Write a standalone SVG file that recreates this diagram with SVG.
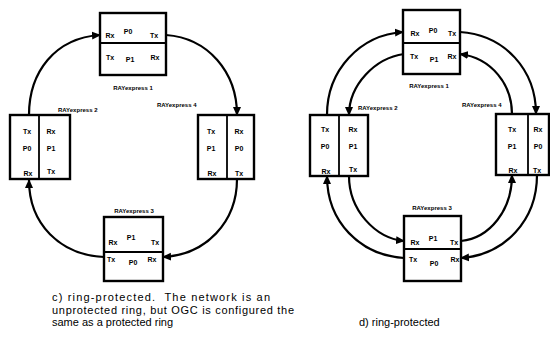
<svg xmlns="http://www.w3.org/2000/svg" width="550" height="349" viewBox="0 0 550 349">
<style>
.box{fill:#fff;stroke:#000;stroke-width:2.4}
.div{stroke:#000;stroke-width:1.8}
.p{font-family:"Liberation Sans",Arial,sans-serif;font-size:7px;font-weight:bold;text-anchor:middle;fill:#000}
.n{font-family:"Liberation Sans",Arial,sans-serif;font-size:6px;font-weight:bold;fill:#000}
.cap{font-family:"Liberation Sans",Arial,sans-serif;font-size:11px;fill:#000}
.c{fill:none;stroke:#000;stroke-width:2.2;marker-end:url(#ah)}
</style>
<defs>
<marker id="ah" markerUnits="userSpaceOnUse" markerWidth="9" markerHeight="9" refX="8" refY="4.5" orient="auto">
<path d="M0,0.5 L9,4.5 L0,8.5 z" fill="#000"/>
</marker>
</defs>
<g id="connectors">
<path class="c" d="M29,115 C29,72 55,38 100,35"/>
<path class="c" d="M166,35 C208,38 237,72 237,115"/>
<path class="c" d="M237,179 C237,222 206,255 163,257"/>
<path class="c" d="M104,257 C60,255 29,224 29,180"/>
<path class="c" d="M327,115 C327,70 360,35 403,32"/>
<path class="c" d="M460,32 C505,35 536,70 536,114"/>
<path class="c" d="M537,175 C537,220 505,255 461,258"/>
<path class="c" d="M404,258 C360,255 327,222 327,176"/>
<path class="c" d="M404,54 C375,58 349,85 349,115"/>
<path class="c" d="M349,176 C349,210 375,238 404,241"/>
<path class="c" d="M461,241 C490,238 512,210 512,175"/>
<path class="c" d="M512,114 C512,85 492,58 460,54"/>
</g>
<g id="c-ray1">
<rect class="box" x="100" y="13" width="66" height="62"/>
<line class="div" x1="100" y1="43" x2="166" y2="43"/>
<text class="p" x="110" y="38">Rx</text><text class="p" x="128" y="34">P0</text><text class="p" x="154" y="38">Tx</text>
<text class="p" x="110" y="60">Tx</text><text class="p" x="130" y="62">P1</text><text class="p" x="155" y="60">Rx</text>
<text class="n" x="133" y="90" text-anchor="middle">RAYexpress 1</text>
</g>
<g id="c-ray2">
<rect class="box" x="10" y="115" width="60" height="64"/>
<line class="div" x1="39" y1="115" x2="39" y2="179"/>
<text class="p" x="27" y="134">Tx</text><text class="p" x="51" y="134">Rx</text>
<text class="p" x="27" y="151">P0</text><text class="p" x="51" y="151">P1</text>
<text class="p" x="28" y="176">Rx</text><text class="p" x="51" y="174">Tx</text>
<text class="n" x="58" y="112">RAYexpress 2</text>
</g>
<g id="c-ray4">
<rect class="box" x="198" y="115" width="56" height="64"/>
<line class="div" x1="227" y1="115" x2="227" y2="179"/>
<text class="p" x="211" y="134">Tx</text><text class="p" x="239" y="134">Rx</text>
<text class="p" x="211" y="151">P1</text><text class="p" x="239" y="151">P0</text>
<text class="p" x="212" y="176">Rx</text><text class="p" x="239" y="176">Tx</text>
<text class="n" x="157" y="107">RAYexpress 4</text>
</g>
<g id="c-ray3">
<rect class="box" x="104" y="217" width="59" height="64"/>
<line class="div" x1="104" y1="252" x2="163" y2="252"/>
<text class="p" x="113" y="245">Rx</text><text class="p" x="131" y="240">P1</text><text class="p" x="155" y="245">Tx</text>
<text class="p" x="111" y="262">Tx</text><text class="p" x="133" y="265">P0</text><text class="p" x="152" y="262">Rx</text>
<text class="n" x="134" y="213" text-anchor="middle">RAYexpress 3</text>
</g>
<g id="d-ray1">
<rect class="box" x="403" y="10" width="57" height="64"/>
<line class="div" x1="403" y1="43" x2="460" y2="43"/>
<text class="p" x="415" y="36">Rx</text><text class="p" x="433" y="33">P0</text><text class="p" x="452" y="36">Tx</text>
<text class="p" x="414" y="59">Tx</text><text class="p" x="434" y="62">P1</text><text class="p" x="452" y="59">Rx</text>
<text class="n" x="429" y="88" text-anchor="middle">RAYexpress 1</text>
</g>
<g id="d-ray2">
<rect class="box" x="310" y="115" width="58" height="61"/>
<line class="div" x1="339" y1="115" x2="339" y2="176"/>
<text class="p" x="325" y="132">Tx</text><text class="p" x="353" y="132">Rx</text>
<text class="p" x="325" y="149">P0</text><text class="p" x="353" y="149">P1</text>
<text class="p" x="326" y="174">Rx</text><text class="p" x="353" y="172">Tx</text>
<text class="n" x="358" y="110">RAYexpress 2</text>
</g>
<g id="d-ray4">
<rect class="box" x="496" y="114" width="53" height="61"/>
<line class="div" x1="528" y1="114" x2="528" y2="175"/>
<text class="p" x="512" y="132">Tx</text><text class="p" x="538" y="132">Rx</text>
<text class="p" x="512" y="149">P1</text><text class="p" x="538" y="149">P0</text>
<text class="p" x="513" y="173">Rx</text><text class="p" x="537" y="173">Tx</text>
<text class="n" x="462" y="107">RAYexpress 4</text>
</g>
<g id="d-ray3">
<rect class="box" x="404" y="216" width="57" height="65"/>
<line class="div" x1="404" y1="249" x2="461" y2="249"/>
<text class="p" x="415" y="245">Rx</text><text class="p" x="433" y="241">P1</text><text class="p" x="454" y="245">Tx</text>
<text class="p" x="413" y="262">Tx</text><text class="p" x="434" y="266">P0</text><text class="p" x="455" y="262">Rx</text>
<text class="n" x="432" y="210" text-anchor="middle">RAYexpress 3</text>
</g>
<g id="captions">
<text class="cap" x="52" y="301" xml:space="preserve" textLength="218" lengthAdjust="spacing">c) ring-protected.  The network is an</text>
<text class="cap" x="52" y="314" textLength="242" lengthAdjust="spacing">unprotected ring, but OGC is configured the</text>
<text class="cap" x="52" y="326">same as a protected ring</text>
<text class="cap" x="359" y="326">d) ring-protected</text>
</g>
</svg>
